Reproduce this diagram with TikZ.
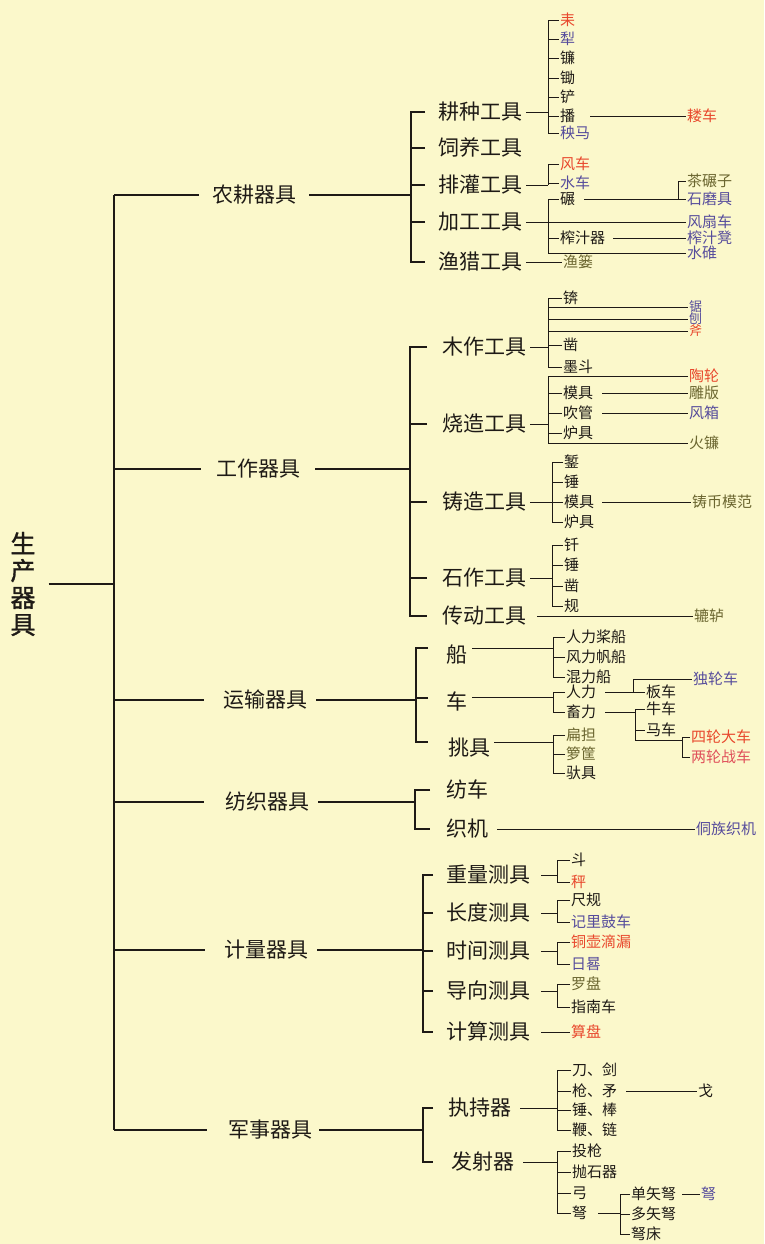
\documentclass[tikz,border=0pt]{standalone}
\usepackage{fontspec}
\newfontfamily\cjk{Noto Sans CJK SC}
\newfontfamily\cjkbold{Noto Sans CJK SC}[FakeBold=1.2]
\definecolor{bg}{HTML}{FBF8CB}
\definecolor{ink}{HTML}{1E1A16}
\definecolor{cred}{HTML}{E8472C}
\definecolor{cpink}{HTML}{E0505A}
\definecolor{cpur}{HTML}{564C9C}
\definecolor{colv}{HTML}{6B6630}
\tikzset{
  base/.style={anchor=west, inner xsep=1pt, inner ysep=0pt, text=ink},
  ta/.style={base, font=\cjk\fontsize{21}{21}\selectfont, text height=17.6pt, text depth=1.7pt},
  tb/.style={base, font=\cjk\fontsize{21}{21}\selectfont, text height=17.6pt, text depth=1.7pt},
  tc/.style={base, font=\cjk\fontsize{15}{15}\selectfont, text height=12.6pt, text depth=1.2pt},
  td/.style={base, font=\cjk\fontsize{13}{13}\selectfont, text height=10.9pt, text depth=1pt},
  rd/.style={text=cred}, pu/.style={text=cpur}, ol/.style={text=colv}, pk/.style={text=cpink},
  mainln/.style={line width=2.4pt, draw=ink},
  brln/.style={line width=2pt, draw=ink},
  midln/.style={line width=1.3pt, draw=ink},
  ln/.style={line width=0.9pt, draw=ink},
}
\begin{document}
\begin{tikzpicture}[x=1pt,y=-1pt]
\fill[bg] (0,0) rectangle (764,1244);
\useasboundingbox (0,0) rectangle (764,1244);

% bracket x positions
\coordinate (xa) at (411,0);
\coordinate (xb) at (548,0);
\coordinate (xc) at (678,0);
\coordinate (xd) at (410,0);
\coordinate (xe) at (552,0);
\coordinate (xf) at (416,0);
\coordinate (xg) at (553,0);
\coordinate (xh) at (633,0);
\coordinate (xi) at (635,0);
\coordinate (xj) at (682,0);
\coordinate (xk) at (415,0);
\coordinate (xl) at (423,0);
\coordinate (xm) at (557,0);
\coordinate (xn) at (620,0);

% root
\node[font=\cjkbold\fontsize{25}{27}\selectfont, align=center, inner sep=0pt, text=ink] (R) at (23,584) {生\\产\\器\\具};
\coordinate (m0) at (114,584);
\coordinate (m1) at (114,195);
\coordinate (m2) at (114,469);
\coordinate (m3) at (114,700);
\coordinate (m4) at (114,802);
\coordinate (m5) at (114,950);
\coordinate (m6) at (114,1130);
\draw[brln] ([xshift=13pt]R.east) -- (m0);
\draw[mainln] (m1) -- (m6);

% ---------------- level 1
\node[ta] (A1) at (211,195) {农耕器具};
\node[ta] (A2) at (215,469) {工作器具};
\node[ta] (A3) at (222,700) {运输器具};
\node[ta] (A4) at (224,802) {纺织器具};
\node[ta] (A5) at (223,950) {计量器具};
\node[ta] (A6) at (227,1130) {军事器具};
\draw[brln] (m1) -- ([xshift=-12pt]A1.west);
\draw[brln] (m2) -- ([xshift=-14pt]A2.west);
\draw[brln] (m3) -- ([xshift=-18pt]A3.west);
\draw[brln] (m4) -- ([xshift=-20pt]A4.west);
\draw[brln] (m5) -- ([xshift=-18pt]A5.west);
\draw[brln] (m6) -- ([xshift=-20pt]A6.west);

% ================= 农耕器具
\draw[midln] ([xshift=12pt]A1.east) -- (xa |- A1.east);
\node[tb] (B1) at (437,112) {耕种工具};
\node[tb] (B2) at (437,148) {饲养工具};
\node[tb] (B3) at (437,185) {排灌工具};
\node[tb] (B4) at (437,222) {加工工具};
\node[tb] (B5) at (437,262) {渔猎工具};
\draw[midln] ([xshift=-12pt]B1.west) -| (xa |- B5.west) -- ([xshift=-12pt]B5.west);
\foreach \n in {B2,B3,B4} \draw[midln] ([xshift=-12pt]\n.west) -- (xa |- \n.west);

% 耕种工具
\node[tc,rd] (C1) at (559,20) {耒};
\node[tc,pu] (C2) at (559,39) {犁};
\node[tc] (C3) at (559,58) {镰};
\node[tc] (C4) at (559,78) {锄};
\node[tc] (C5) at (559,97) {铲};
\node[tc] (C6) at (559,116) {播};
\node[tc,pu] (C7) at (559,133) {秧马};
\node[tc,rd] (C8) at (686,116) {耧车};
\draw[ln] ([xshift=3pt]B1.east) -- (xb |- B1.east);
\draw[ln] (C1.west) -| (xb |- C7.west) -- (C7.west);
\foreach \n in {C2,C3,C4,C5,C6} \draw[ln] (\n.west) -- (xb |- \n.west);
\draw[ln] ([xshift=14pt]C6.east) -- (C8.west);

% 排灌工具
\node[tc,rd] (C9) at (559,164) {风车};
\node[tc,pu] (C10) at (559,183) {水车};
\draw[ln] ([xshift=3pt]B3.east) -- (xb |- B3.east);
\draw[ln] (C9.west) -| (xb |- B3.east);
\draw[ln] (C10.west) -- (xb |- C10.west);

% 加工工具
\node[tc] (C11) at (559,199) {碾};
\node[tc] (C12) at (559,238) {榨汁器};
\node[tc,ol] (C13) at (686,181) {茶碾子};
\node[tc,pu] (C14) at (686,199) {石磨具};
\node[tc,pu] (C15) at (686,222) {风扇车};
\node[tc,pu] (C16) at (686,238) {榨汁凳};
\node[tc,pu] (C17) at (686,253) {水碓};
\draw[ln] ([xshift=3pt]B4.east) -- (C15.west);
\draw[ln] (C11.west) -| (xb |- C17.west) -- (C17.west);
\draw[ln] (C12.west) -- (xb |- C12.west);
\draw[ln] ([xshift=8pt]C11.east) -- (C14.west);
\draw[ln] (xc |- C14.west) |- (C13.west);
\draw[ln] ([xshift=7pt]C12.east) -- (C16.west);

% 渔猎工具
\node[tc,ol] (C18) at (562,262) {渔篓};
\draw[ln] ([xshift=3pt]B5.east) -- (C18.west);

% ================= 工作器具
\draw[midln] ([xshift=14pt]A2.east) -- (xd |- A2.east);
\node[tb] (B6) at (441,347) {木作工具};
\node[tb] (B7) at (441,424) {烧造工具};
\node[tb] (B8) at (441,502) {铸造工具};
\node[tb] (B9) at (441,578) {石作工具};
\node[tb] (B10) at (441,616) {传动工具};
\draw[midln] ([xshift=-14pt]B6.west) -| (xd |- B10.west) -- ([xshift=-14pt]B10.west);
\foreach \n in {B7,B8,B9} \draw[midln] ([xshift=-14pt]\n.west) -- (xd |- \n.west);

% 木作工具
\node[tc] (E1) at (562,298) {锛};
\node[tc] (E2) at (562,345) {凿};
\node[tc] (E3) at (562,367) {墨斗};
\node[td,pu] (E4) at (688,307) {锯};
\node[td,pu] (E5) at (688,319) {刨};
\node[td,rd] (E6) at (688,331) {斧};
\draw[ln] ([xshift=3pt]B6.east) -- (xb |- B6.east);
\draw[ln] (E1.west) -| (xb |- E3.west) -- (E3.west);
\draw[ln] (E2.west) -- (xb |- E2.west);
\foreach \n in {E4,E5,E6} \draw[ln] (xb |- \n.west) -- (\n.west);

% 烧造工具
\node[tc,rd] (E7) at (688,376) {陶轮};
\node[tc] (E8) at (562,393) {模具};
\node[tc] (E9) at (562,413) {吹管};
\node[tc] (E10) at (562,433) {炉具};
\node[tc,ol] (E11) at (688,393) {雕版};
\node[tc,pu] (E12) at (688,413) {风箱};
\node[tc,ol] (E13) at (688,443) {火镰};
\draw[ln] ([xshift=3pt]B7.east) -- (xb |- B7.east);
\draw[ln] (E7.west) -| (xb |- E13.west) -- (E13.west);
\foreach \n in {E8,E9,E10} \draw[ln] (\n.west) -- (xb |- \n.west);
\draw[ln] ([xshift=8pt]E8.east) -- (E11.west);
\draw[ln] ([xshift=8pt]E9.east) -- (E12.west);

% 铸造工具
\node[tc] (E14) at (563,462) {錾};
\node[tc] (E15) at (563,482) {锤};
\node[tc] (E16) at (563,502) {模具};
\node[tc] (E17) at (563,522) {炉具};
\node[tc,ol] (E18) at (691,502) {铸币模范};
\draw[ln] ([xshift=3pt]B8.east) -- (xe |- B8.east);
\draw[ln] (E14.west) -| (xe |- E17.west) -- (E17.west);
\foreach \n in {E15,E16} \draw[ln] (\n.west) -- (xe |- \n.west);
\draw[ln] ([xshift=7pt]E16.east) -- (E18.west);

% 石作工具
\node[tc] (E19) at (563,545) {钎};
\node[tc] (E20) at (563,565) {锤};
\node[tc] (E21) at (563,586) {凿};
\node[tc] (E22) at (563,606) {规};
\draw[ln] ([xshift=3pt]B9.east) -- (xe |- B9.east);
\draw[ln] (E19.west) -| (xe |- E22.west) -- (E22.west);
\foreach \n in {E20,E21} \draw[ln] (\n.west) -- (xe |- \n.west);

% 传动工具
\node[tc,ol] (E23) at (693,616) {辘轳};
\draw[ln] ([xshift=10pt]B10.east) -- (E23.west);

% ================= 运输器具
\draw[midln] ([xshift=8pt]A3.east) -- (xf |- A3.east);
\node[tb] (B11) at (445,655) {船};
\node[tb] (B12) at (445,702) {车};
\node[tb] (B13) at (447,748) {挑具};
\coordinate (t11) at (428,648);
\coordinate (t12) at (428,698);
\coordinate (t13) at (428,742);
\draw[midln] (t11) -| (xf |- t13) -- (t13);
\draw[midln] (t12) -- (xf |- t12);

% 船
\coordinate (s11) at (472,648);
\coordinate (s12) at (472,697);
\coordinate (s13) at (494,742);
\node[tc] (F1) at (565,637) {人力桨船};
\node[tc] (F2) at (565,657) {风力帆船};
\node[tc] (F3) at (565,677) {混力船};
\draw[ln] (s11) -- (xg |- s11);
\draw[ln] (F1.west) -| (xg |- F3.west) -- (F3.west);
\draw[ln] (F2.west) -- (xg |- F2.west);

% 车
\node[tc] (F4) at (565,692) {人力};
\node[tc] (F5) at (565,712) {畜力};
\draw[ln] (s12) -- (xg |- s12);
\draw[ln] (F4.west) -| (xg |- F5.west) -- (F5.west);
\node[tc] (F6) at (645,692) {板车};
\node[tc,pu] (F7) at (692,679) {独轮车};
\draw[ln] ([xshift=8pt]F4.east) -- (F6.west);
\draw[ln] (xh |- F6.west) |- (F7.west);
\node[tc] (F8) at (645,709) {牛车};
\node[tc] (F9) at (645,730) {马车};
\node[tc,rd] (F10) at (690,737) {四轮大车};
\node[tc,pk] (F11) at (690,757) {两轮战车};
\coordinate (j1) at (635,740);
\coordinate (j2) at (682,740);
\draw[ln] ([xshift=8pt]F5.east) -- (xi |- F5.west);
\draw[ln] (F8.west) -| (j1) -- (j2);
\draw[ln] (F9.west) -- (xi |- F9.west);
\draw[ln] (F10.west) -| (xj |- F11.west) -- (F11.west);

% 挑具
\node[tc,ol] (F12) at (565,735) {扁担};
\node[tc,ol] (F13) at (565,754) {箩筐};
\node[tc] (F14) at (565,773) {驮具};
\draw[ln] (s13) -- (xg |- s13);
\draw[ln] (F12.west) -| (xg |- F14.west) -- (F14.west);
\draw[ln] (F13.west) -- (xg |- F13.west);

% ================= 纺织器具
\draw[midln] ([xshift=8pt]A4.east) -- (xk |- A4.east);
\node[tb] (B14) at (445,790) {纺车};
\node[tb] (B15) at (445,829) {织机};
\draw[midln] ([xshift=-15pt]B14.west) -| (xk |- B15.west) -- ([xshift=-15pt]B15.west);
\node[tc,pu] (F15) at (695,829) {侗族织机};
\draw[ln] ([xshift=8pt]B15.east) -- (F15.west);

% ================= 计量器具
\draw[midln] ([xshift=8pt]A5.east) -- (xl |- A5.east);
\node[tb] (B16) at (445,875) {重量测具};
\node[tb] (B17) at (445,913) {长度测具};
\node[tb] (B18) at (445,951) {时间测具};
\node[tb] (B19) at (445,991) {导向测具};
\node[tb] (B20) at (445,1032) {计算测具};
\draw[midln] ([xshift=-12pt]B16.west) -| (xl |- B20.west) -- ([xshift=-12pt]B20.west);
\foreach \n in {B17,B18,B19} \draw[midln] ([xshift=-12pt]\n.west) -- (xl |- \n.west);

\node[tc] (G1) at (570,860) {斗};
\node[tc,rd] (G2) at (570,882) {秤};
\node[tc] (G3) at (570,900) {尺规};
\node[tc,pu] (G4) at (570,922) {记里鼓车};
\node[tc,rd] (G5) at (570,942) {铜壶滴漏};
\node[tc,pu] (G6) at (570,964) {日晷};
\node[tc,ol] (G7) at (570,984) {罗盘};
\node[tc] (G8) at (570,1007) {指南车};
\node[tc,rd] (G9) at (570,1032) {算盘};
\draw[ln] ([xshift=10pt]B16.east) -- (xm |- B16.east);
\draw[ln] (G1.west) -| (xm |- G2.west) -- (G2.west);
\draw[ln] ([xshift=10pt]B17.east) -- (xm |- B17.east);
\draw[ln] (G3.west) -| (xm |- G4.west) -- (G4.west);
\draw[ln] ([xshift=10pt]B18.east) -- (xm |- B18.east);
\draw[ln] (G5.west) -| (xm |- G6.west) -- (G6.west);
\draw[ln] ([xshift=10pt]B19.east) -- (xm |- B19.east);
\draw[ln] (G7.west) -| (xm |- G8.west) -- (G8.west);
\draw[ln] ([xshift=10pt]B20.east) -- (G9.west);

% ================= 军事器具
\draw[midln] ([xshift=6pt]A6.east) -- (xl |- A6.east);
\node[tb] (B21) at (447,1108) {执持器};
\node[tb] (B22) at (450,1162) {发射器};
\draw[midln] ([xshift=-14pt]B21.west) -| (xl |- B22.west) -- ([xshift=-17pt]B22.west);

\node[tc] (H1) at (571,1070) {刀、剑};
\node[tc] (H2) at (571,1091) {枪、矛};
\node[tc] (H3) at (571,1110) {锤、棒};
\node[tc] (H4) at (571,1130) {鞭、链};
\node[tc] (H5) at (697,1091) {戈};
\draw[ln] ([xshift=8pt]B21.east) -- (xm |- B21.east);
\draw[ln] (H1.west) -| (xm |- H4.west) -- (H4.west);
\foreach \n in {H2,H3} \draw[ln] (\n.west) -- (xm |- \n.west);
\draw[ln] ([xshift=8pt]H2.east) -- (H5.west);

\node[tc] (H6) at (571,1151) {投枪};
\node[tc] (H7) at (571,1172) {抛石器};
\node[tc] (H8) at (571,1193) {弓};
\node[tc] (H9) at (571,1213) {弩};
\draw[ln] ([xshift=8pt]B22.east) -- (xm |- B22.east);
\draw[ln] (H6.west) -| (xm |- H9.west) -- (H9.west);
\foreach \n in {H7,H8} \draw[ln] (\n.west) -- (xm |- \n.west);

\node[tc] (H10) at (630,1194) {单矢弩};
\node[tc] (H11) at (630,1214) {多矢弩};
\node[tc] (H12) at (630,1234) {弩床};
\node[tc,pu] (H13) at (700,1194) {弩};
\draw[ln] ([xshift=10pt]H9.east) -- (xn |- H9.east);
\draw[ln] (H10.west) -| (xn |- H12.west) -- (H12.west);
\draw[ln] (H11.west) -- (xn |- H11.west);
\draw[ln] ([xshift=5pt]H10.east) -- (H13.west);
\end{tikzpicture}
\end{document}
